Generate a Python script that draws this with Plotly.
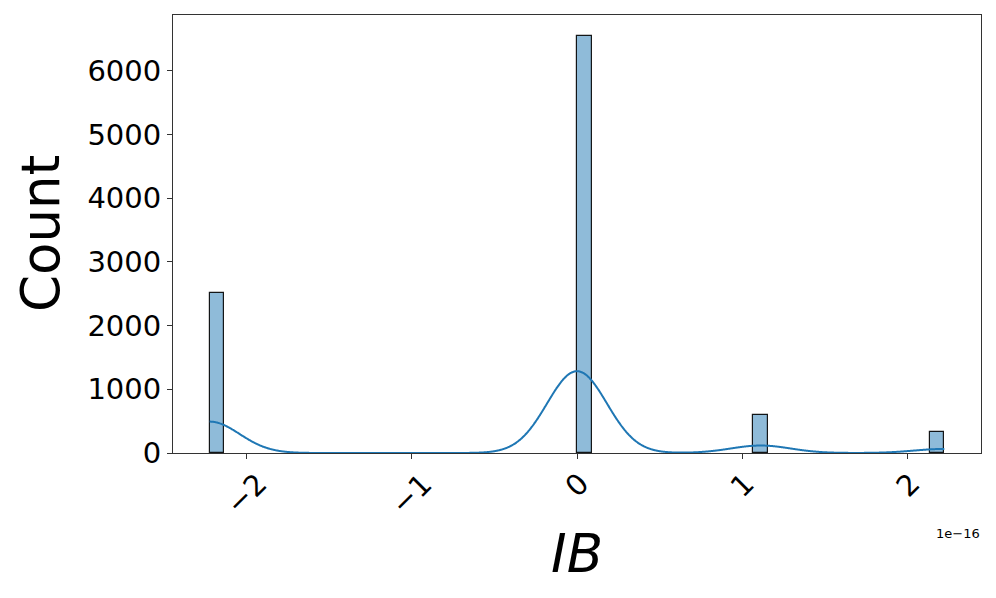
import numpy as np
import plotly.graph_objects as go

# Data (x in units of 1e-16)
ib_values = [-2.220446, 0.0, 1.110223, 2.220446]
counts = [2512, 6546, 597, 325]
x_ticks = [-2, -1, 0, 1, 2]
x_tick_labels = ["\u22122", "\u22121", "0", "1", "2"]
y_ticks = [0, 1000, 2000, 3000, 4000, 5000, 6000]
n_bins = 50

vals = np.array(ib_values)
cnts = np.array(counts, dtype=float)
edges = np.linspace(vals.min(), vals.max(), n_bins + 1)
bw_bin = edges[1] - edges[0]
idx = np.clip(np.digitize(vals, edges) - 1, 0, n_bins - 1)
centers = (edges[idx] + edges[idx + 1]) / 2

# KDE (Scott's rule, weighted), scaled to counts like seaborn
N = cnts.sum()
mean = (vals * cnts).sum() / N
sd = np.sqrt(((vals - mean) ** 2 * cnts).sum() / N * N / (N - 1))
bw = sd * N ** (-1 / 5)
grid = np.linspace(vals.min(), vals.max(), 1000)
dens = np.zeros_like(grid)
for v, c in zip(vals, cnts):
    dens += c * np.exp(-0.5 * ((grid - v) / bw) ** 2) / (np.sqrt(2 * np.pi) * bw)
kde = dens * bw_bin

fig = go.Figure()
fig.add_trace(go.Bar(
    x=centers, y=cnts, width=bw_bin,
    marker=dict(color="rgba(31,119,180,0.5)", line=dict(color="rgba(0,0,0,0.9)", width=1.2)),
    showlegend=False,
))
fig.add_trace(go.Scatter(
    x=grid, y=kde, mode="lines",
    line=dict(color="#1f77b4", width=2, shape="spline"),
    showlegend=False,
))

font = "DejaVu Sans"
fig.update_layout(
    width=996, height=598,
    margin=dict(l=173, r=15, t=15, b=145),
    plot_bgcolor="white", paper_bgcolor="white",
    bargap=0,
    font=dict(family=font, color="black"),
)
fig.update_xaxes(
    range=[-2.442, 2.442],
    tickvals=x_ticks, ticktext=[""] * len(x_ticks),
    ticks="outside", ticklen=5, tickwidth=1, tickcolor="#333",
    showline=True, linecolor="#333", linewidth=1, mirror=True,
    showgrid=False, zeroline=False,
)
fig.update_yaxes(
    range=[0, 6873],
    tickvals=y_ticks,
    tickfont=dict(size=29, family=font, color="black"),
    ticks="outside", ticklen=5, tickwidth=1, tickcolor="#333",
    showline=True, linecolor="#333", linewidth=1, mirror=True,
    showgrid=False, zeroline=False,
)

annotations = []
for t, lab in zip(x_ticks, x_tick_labels):
    annotations.append(dict(
        x=t, y=0, xref="x", yref="paper", text=lab, showarrow=False,
        textangle=-45, xanchor="center", yanchor="top", yshift=-11,
        font=dict(size=29, family=font, color="black"),
    ))
annotations.append(dict(
    x=0.5, y=0, xref="paper", yref="paper", text="<i>IB</i>", showarrow=False,
    xanchor="center", yanchor="middle", yshift=-100,
    font=dict(size=53, family=font, color="black"),
))
annotations.append(dict(
    x=0, y=0.5, xref="paper", yref="paper", text="Count", showarrow=False,
    textangle=-90, xanchor="center", yanchor="middle", xshift=-133,
    font=dict(size=53, family=font, color="black"),
))
annotations.append(dict(
    x=1, y=0, xref="paper", yref="paper", text="1e\u221216", showarrow=False,
    xanchor="right", yanchor="middle", yshift=-80, xshift=1,
    font=dict(size=13, family=font, color="black"),
))
fig.update_layout(annotations=annotations)

fig.write_html(
    "out.html",
    config={"displayModeBar": False},
    post_script="document.body.style.margin='0';document.body.style.overflow='hidden';",
)
